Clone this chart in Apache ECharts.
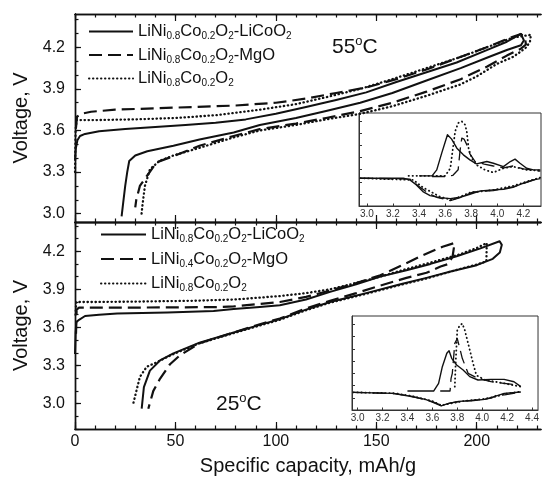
<!DOCTYPE html>
<html><head><meta charset="utf-8">
<script src="https://cdn.jsdelivr.net/npm/echarts@6/dist/echarts.min.js"></script>
<style>html,body{margin:0;padding:0;background:#fff}#c{width:542px;height:483px}</style>
</head><body><div id="c"></div>
<script>
// ---------- Names ----------
const nameSolid = 'LiNi0.8Co0.2O2-LiCoO2';
const nameDash55 = 'LiNi0.8Co0.2O2-MgO';
const nameDash25 = 'LiNi0.4Co0.2O2-MgO';
const nameDot = 'LiNi0.8Co0.2O2';

// ---------- Tick values ----------
const capMajorTicks = [0, 50, 100, 150, 200];
const capMinorTicks = [0,10,20,30,40,50,60,70,80,90,100,110,120,130,140,150,160,170,180,190,200,210,220,230];
const voltMajorTicks = [3.0, 3.3, 3.6, 3.9, 4.2];
const voltMinorTicks55 = [3.0,3.1,3.2,3.3,3.4,3.5,3.6,3.7,3.8,3.9,4.0,4.1,4.2,4.3,4.4];
const voltMinorTicks25 = [2.8,2.9,3.0,3.1,3.2,3.3,3.4,3.5,3.6,3.7,3.8,3.9,4.0,4.1,4.2,4.3,4.4];
const inset55Ticks = [3.0, 3.2, 3.4, 3.6, 3.8, 4.0, 4.2];
const inset25Ticks = [3.0, 3.2, 3.4, 3.6, 3.8, 4.0, 4.2, 4.4];
const insetYTicks = [13, 26, 39, 52, 65, 78, 91];

// ---------- 55 °C charge/discharge curves [capacity mAh/g, voltage V] ----------
const solid55 = [[0,3.39],[0.4,3.47],[1.2,3.53],[2.5,3.56],[5,3.575],[12,3.595],[25,3.61],[40,3.625],[55,3.64],[70,3.655],[85,3.68],[100,3.72],[115,3.77],[130,3.82],[145,3.875],[160,3.95],[175,4.02],[190,4.09],[205,4.18],[215,4.24],[222,4.296],
  [223.5,4.25],[222,4.215],[215,4.18],[206,4.13],[192,4.05],[175,3.96],[158,3.87],[142,3.8],[125,3.74],[110,3.69],[92,3.64],[79,3.585],[62,3.535],[49,3.49],[36,3.45],[30,3.42],[27,3.38],[26,3.3],[25,3.2],[24,3.08],[23.2,2.98]];
const dash55 = [[0.5,3.62],[1,3.70],[3,3.72],[8,3.735],[20,3.75],[40,3.76],[60,3.77],[80,3.78],[100,3.80],[115,3.83],[130,3.87],[145,3.91],[160,3.97],[175,4.04],[190,4.12],[205,4.2],[215,4.26],[222,4.296],
  [224,4.27],[224.5,4.22],[222,4.19],[215,4.14],[205,4.06],[192,3.97],[175,3.88],[158,3.8],[142,3.74],[125,3.69],[110,3.65],[92,3.61],[79,3.56],[62,3.49],[49,3.415],[40.6,3.37],[35.7,3.27],[32.3,3.2],[30.5,3.1],[30,3.045]];
const dot55 = [[0,3.3],[0.3,3.6],[0.8,3.675],[10,3.675],[30,3.68],[50,3.69],[70,3.71],[92,3.75],[110,3.79],[125,3.84],[142,3.9],[158,3.97],[175,4.05],[192,4.13],[205,4.2],[218,4.27],[227,4.29],
  [227.5,4.29],[226.5,4.24],[224.7,4.2],[222,4.17],[218,4.13],[210,4.08],[200,3.99],[191.5,3.93],[175,3.85],[158,3.775],[142,3.72],[125,3.68],[110,3.64],[92,3.6],[79,3.55],[62,3.475],[49,3.42],[42,3.38],[37.3,3.32],[34.8,3.2],[33.5,3.05],[33,2.98]];

// ---------- 25 °C charge/discharge curves ----------
const solid25 = [[0,3.39],[0.3,3.55],[0.6,3.64],[2,3.66],[5,3.69],[12,3.70],[21,3.71],[46,3.717],[69,3.73],[79,3.745],[92,3.76],[102,3.775],[115,3.82],[127,3.88],[140,3.94],[152,4.0],[165,4.05],[177,4.1],[190,4.16],[201.5,4.22],[211.4,4.278],[212,4.28],
  [212.5,4.25],[211.5,4.19],[208,4.14],[200,4.09],[187,4.04],[175,3.99],[162,3.94],[145,3.87],[127,3.8],[115,3.74],[102,3.665],[92,3.62],[79,3.56],[62,3.48],[49,3.396],[42.3,3.34],[37.3,3.26],[34.3,3.13],[33.2,2.96]];
const dash25 = [[0.5,3.55],[0.8,3.74],[2,3.755],[10,3.756],[30,3.756],[50,3.758],[70,3.76],[79,3.765],[102,3.8],[115,3.84],[127,3.89],[140,3.95],[152,4.01],[163,4.09],[172,4.16],[183,4.235],[189,4.265],
  [188,4.16],[186,4.1],[182,4.08],[175,4.03],[165,3.99],[150,3.92],[140,3.87],[127,3.81],[115,3.75],[102,3.67],[92,3.625],[79,3.56],[62,3.475],[52.2,3.38],[47.3,3.31],[42.3,3.195],[39,3.10],[36.5,2.96]];
const dot25 = [[0.3,3.7],[0.6,3.80],[10,3.80],[30,3.803],[60,3.81],[80,3.82],[102,3.847],[115,3.87],[127,3.9],[140,3.95],[152,4.0],[165,4.06],[177,4.11],[191.5,4.175],[200,4.225],[205,4.265],
  [204.8,4.12],[200,4.095],[187,4.04],[175,3.985],[162,3.935],[145,3.865],[127,3.795],[115,3.735],[102,3.66],[92,3.615],[79,3.555],[62,3.475],[49,3.39],[45,3.36],[40,3.32],[35.7,3.29],[32.3,3.21],[29,3.0]];

// ---------- Insets: differential curves [voltage V, current (arb.)] ----------
const in55SolidOx = [[3.40,32.4],[3.50,32.4],[3.536,38.8],[3.574,56.8],[3.618,76.6],[3.65,71.9],[3.69,62.2],[3.74,55.0],[3.79,49.6],[3.84,45.3],[3.92,47.8],[3.97,46.0],[4.047,42.4],[4.10,47.8],[4.136,50.4],[4.174,46.0],[4.225,40.6],[4.276,38.8],[4.33,38.8]];
const in55SolidRed = [[2.95,29.9],[3.28,29.9],[3.33,28.1],[3.38,22.7],[3.43,15.5],[3.485,11.2],[3.56,9.0],[3.64,7.9],[3.715,9.4],[3.79,12.6],[3.87,16.2],[3.97,17.3],[4.047,18.0],[4.12,20.1],[4.2,24.5],[4.276,28.1],[4.33,29.5]];
const in55DashOx = [[3.50,31.7],[3.60,31.7],[3.66,33],[3.70,39],[3.715,60],[3.728,73],[3.745,72],[3.766,66],[3.79,56],[3.83,47.8],[3.90,45],[3.97,43],[4.05,41],[4.12,43],[4.2,40],[4.33,37.5]];
const in55DashRed = [[2.95,29.9],[3.33,29],[3.41,20],[3.48,13],[3.536,9.4],[3.64,5.8],[3.715,9],[3.817,15.1],[3.97,16.5],[4.12,20.5],[4.225,25.5],[4.33,30]];
const in55DotOx = [[3.32,32.4],[3.60,32.4],[3.64,40.6],[3.65,51.4],[3.677,80.2],[3.70,89.2],[3.728,91],[3.753,87.4],[3.766,80],[3.78,62],[3.804,51.4],[3.84,44.2],[3.906,38.8],[3.97,36],[4.047,40.6],[4.12,42.4],[4.225,38.8],[4.33,38.1]];
const in55DotRed = [[2.95,29.9],[3.357,28],[3.43,20],[3.56,10],[3.65,6.5],[3.715,10],[3.79,14.4],[3.97,17.3],[4.12,21.6],[4.225,26.3],[4.33,30.6]];

const in25SolidOx = [[3.40,20.2],[3.61,20.2],[3.65,28.4],[3.68,46.1],[3.716,60.3],[3.734,63.1],[3.755,55],[3.795,47.9],[3.847,42.6],[3.90,35.5],[3.966,31.9],[4.07,32.6],[4.176,32.6],[4.255,30.1],[4.31,24.8]];
const in25SolidRed = [[2.966,18.8],[3.28,17.7],[3.41,14.9],[3.545,11.3],[3.624,7.1],[3.671,4.3],[3.73,7.1],[3.81,9.2],[3.913,9.9],[4.02,11.3],[4.097,14.2],[4.176,17.7],[4.31,19.1]];
const in25DashOx = [[3.663,20.2],[3.742,20.2],[3.75,33.7],[3.76,39],[3.78,70.9],[3.80,76],[3.82,65.6],[3.84,55],[3.887,39],[3.966,33.7],[4.07,30.1],[4.176,28.4],[4.28,26.6]];
const in25DashRed = [[2.966,18.8],[3.3,17.5],[3.45,14],[3.6,9],[3.67,5],[3.75,7.5],[3.85,9.5],[4.0,11],[4.08,13],[4.13,17],[4.18,16],[4.31,19]];
const in25DotOx = [[3.78,24.8],[3.787,50],[3.80,85],[3.82,90],[3.84,92],[3.86,85],[3.88,74.5],[3.90,64],[3.926,50],[3.953,37],[4.02,32],[4.15,29],[4.31,24.8]];
const in25DotRed = [[2.966,18.8],[3.3,17.8],[3.45,14.5],[3.6,9.5],[3.67,5],[3.75,7],[3.85,9.5],[4.0,11.5],[4.1,14],[4.2,17.5],[4.31,19.5]];

// ---------- Styling ----------
const FONT = '"Liberation Sans", Arial, Helvetica, sans-serif';
const INK = '#111';
const DASH = [13, 6];
const DOT = [0.4, 3.6];

function chem(name) {
  return ('{m|' + name.replace(/(\d+(?:\.\d+)?)/g, '}{s|$1}{m|') + '}').replace(/\{m\|\}/g, '');
}
const legendRich = {
  m: { fontSize: 16.5, lineHeight: 20, fontFamily: FONT, color: INK },
  s: { fontSize: 10, lineHeight: 11, verticalAlign: 'bottom', fontFamily: FONT, color: INK }
};
const degRich = {
  a: { fontSize: 21, fontFamily: FONT, fontWeight: 'normal', color: INK, lineHeight: 24 },
  b: { fontSize: 13, fontFamily: FONT, fontWeight: 'normal', color: INK, verticalAlign: 'top', lineHeight: 14 }
};

function xAxisPart(grid, pos, major, withLabels) {
  return {
    type: 'value', gridIndex: grid, position: pos, min: 0, max: 232,
    axisLine: { show: true, onZero: false, lineStyle: { color: INK, width: 1.4 } },
    axisTick: { show: true, inside: true, length: major ? 7 : 3.5, customValues: major ? capMajorTicks : capMinorTicks, lineStyle: { color: INK, width: 1.2 } },
    axisLabel: withLabels ? { show: true, customValues: capMajorTicks, fontSize: 16, fontFamily: FONT, color: INK, margin: 5 } : { show: false },
    splitLine: { show: false },
    name: withLabels ? 'Specific capacity, mAh/g' : '',
    nameLocation: 'middle', nameGap: 27,
    nameTextStyle: { fontSize: 20, fontFamily: FONT, color: INK }
  };
}
function yAxisPart(grid, min, max, major, minorTicks) {
  return {
    type: 'value', gridIndex: grid, position: 'left', min: min, max: max,
    axisLine: { show: true, onZero: false, lineStyle: { color: INK, width: 1.4 } },
    axisTick: { show: true, inside: true, length: major ? 6 : 3.5, customValues: major ? voltMajorTicks : minorTicks, lineStyle: { color: INK, width: 1.2 } },
    axisLabel: major ? { show: true, customValues: voltMajorTicks, formatter: v => v.toFixed(1), fontSize: 16, fontFamily: FONT, color: INK, margin: 10 } : { show: false },
    splitLine: { show: false },
    name: major ? 'Voltage, V' : '',
    nameLocation: 'middle', nameGap: 44,
    nameTextStyle: { fontSize: 20, fontFamily: FONT, color: INK }
  };
}
function insetX(grid, min, max, ticks) {
  return {
    type: 'value', gridIndex: grid, min: min, max: max,
    axisLine: { show: true, onZero: false, lineStyle: { color: '#333', width: 1 } },
    axisTick: { show: true, inside: true, length: 2.5, customValues: ticks, lineStyle: { color: '#333' } },
    axisLabel: { show: true, customValues: ticks, formatter: v => v.toFixed(1), fontSize: 10, fontFamily: FONT, color: '#333', margin: 3 },
    splitLine: { show: false }
  };
}
function insetY(grid) {
  return {
    type: 'value', gridIndex: grid, min: 0, max: 100,
    axisLine: { show: true, onZero: false, lineStyle: { color: '#333', width: 1 } },
    axisTick: { show: true, inside: true, length: 3, customValues: insetYTicks, lineStyle: { color: '#333' } },
    axisLabel: { show: false }, splitLine: { show: false }
  };
}
function line(name, data, xi, yi, kind, w) {
  const type = kind === 'dash' ? DASH : kind === 'dot' ? DOT : 'solid';
  return {
    type: 'line', name: name, data: data, xAxisIndex: xi, yAxisIndex: yi,
    symbol: 'circle', showSymbol: false, silent: true, animation: false,
    lineStyle: { color: INK, width: w, type: type, cap: kind === 'dot' ? 'round' : 'butt', join: 'round' },
    itemStyle: { color: INK }
  };
}

const option = {
  backgroundColor: '#fff',
  animation: false,
  grid: [
    { left: 75, top: 14, width: 466, height: 208 },
    { left: 75, top: 222, width: 466, height: 207 },
    { left: 359, top: 113, width: 182, height: 93, show: true, backgroundColor: '#fff', borderColor: '#333', borderWidth: 1 },
    { left: 352, top: 316, width: 189, height: 94, show: true, backgroundColor: '#fff', borderColor: '#333', borderWidth: 1 }
  ],
  xAxis: [
    xAxisPart(0, 'bottom', false, false),
    xAxisPart(0, 'bottom', true, false),
    xAxisPart(0, 'top', false, false),
    xAxisPart(0, 'top', true, false),
    xAxisPart(1, 'top', false, false),
    xAxisPart(1, 'top', true, false),
    xAxisPart(1, 'bottom', false, false),
    xAxisPart(1, 'bottom', true, true),
    insetX(2, 2.94, 4.335, inset55Ticks),
    insetX(3, 2.955, 4.448, inset25Ticks)
  ],
  yAxis: [
    yAxisPart(0, 2.94, 4.44, true, null),
    yAxisPart(0, 2.94, 4.44, false, voltMinorTicks55),
    yAxisPart(1, 2.8, 4.43, true, null),
    yAxisPart(1, 2.8, 4.43, false, voltMinorTicks25),
    insetY(2),
    insetY(3)
  ],
  legend: [
    { data: [nameSolid, nameDash55, nameDot], orient: 'vertical', left: 88, top: 23, padding: 0, itemWidth: 44, itemHeight: 20, itemGap: 5,
      selectedMode: false, itemStyle: { opacity: 0 }, formatter: chem, textStyle: { rich: legendRich } },
    { data: [nameSolid, nameDash25, nameDot], orient: 'vertical', left: 100, top: 226, padding: 0, itemWidth: 45, itemHeight: 20, itemGap: 6,
      selectedMode: false, itemStyle: { opacity: 0 }, formatter: chem, textStyle: { rich: legendRich } }
  ],
  title: [
    { text: '{a|55}{b|o}{a|C}', left: 332, top: 35, padding: 0, textStyle: { fontWeight: 'normal', rich: degRich } },
    { text: '{a|25}{b|o}{a|C}', left: 216, top: 392, padding: 0, textStyle: { fontWeight: 'normal', rich: degRich } }
  ],
  series: [
    line(nameSolid, solid55, 1, 0, 'solid', 2),
    line(nameDash55, dash55, 1, 0, 'dash', 2.2),
    line(nameDot, dot55, 1, 0, 'dot', 2.3),
    line(nameSolid, solid25, 7, 2, 'solid', 2),
    line(nameDash25, dash25, 7, 2, 'dash', 2.2),
    line(nameDot, dot25, 7, 2, 'dot', 2.3),
    line('i55s1', in55SolidOx, 8, 4, 'solid', 1.4),
    line('i55s2', in55SolidRed, 8, 4, 'solid', 1.4),
    line('i55d1', in55DashOx, 8, 4, 'dash', 1.3),
    line('i55d2', in55DashRed, 8, 4, 'dash', 1.3),
    line('i55o1', in55DotOx, 8, 4, 'dot', 1.8),
    line('i55o2', in55DotRed, 8, 4, 'dot', 1.8),
    line('i25s1', in25SolidOx, 9, 5, 'solid', 1.4),
    line('i25s2', in25SolidRed, 9, 5, 'solid', 1.4),
    line('i25d1', in25DashOx, 9, 5, 'dash', 1.3),
    line('i25d2', in25DashRed, 9, 5, 'dash', 1.3),
    line('i25o1', in25DotOx, 9, 5, 'dot', 1.8),
    line('i25o2', in25DotRed, 9, 5, 'dot', 1.8)
  ]
};
const chart = echarts.init(document.getElementById('c'));
chart.setOption(option);
</script></body></html>
